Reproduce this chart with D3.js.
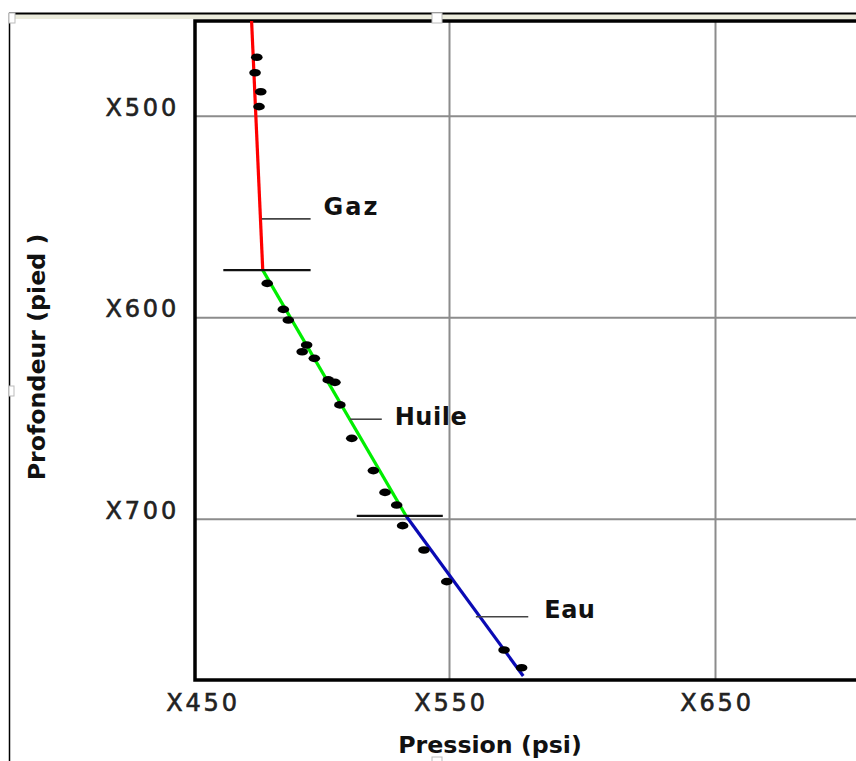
<!DOCTYPE html>
<html>
<head>
<meta charset="utf-8">
<script src="https://cdn.jsdelivr.net/npm/d3@7"></script>
<style>
  html, body { margin: 0; padding: 0; background: #fff; }
  svg { display: block; }
</style>
</head>
<body>
<svg id="chart" width="856" height="761"></svg>
<script>
// ---------------- DATA ----------------
const xTickValues = [450, 550, 650];
const yTickValues = [500, 600, 700];
const xTickLabels = ["X450", "X550", "X650"];
const yTickLabels = ["X500", "X600", "X700"];

// measured pressure points (psi) and depths (ft)
const gasPressure   = [472.5, 471.8, 474.1, 473.4];
const gasDepth      = [471.0, 478.7, 488.1, 495.5];
const oilPressure   = [476.7, 483.2, 485.2, 492.6, 490.8, 495.7, 501.3, 504.0, 506.0, 510.8, 519.5, 524.2, 528.9];
const oilDepth      = [583.2, 596.1, 601.4, 613.8, 617.1, 620.4, 631.1, 632.3, 643.5, 660.1, 676.1, 686.9, 693.2];
const waterPressure = [531.3, 539.9, 549.1, 570.7, 577.3];
const waterDepth    = [703.4, 715.5, 731.2, 765.1, 773.9];

// fitted gradient lines: [pressure, depth]
const gasGradient   = [[470.4, 453.0], [474.9, 576.6]];
const oilGradient   = [[474.9, 576.6], [532.7, 698.6]];
const waterGradient = [[532.7, 698.6], [577.9, 778.0]];

// fluid contacts: depth and pressure extent
const contactNames    = ["GOC", "OWC"];
const contactDepth    = [576.6, 698.6];
const contactPressure = [[459.0, 494.2], [512.8, 547.5]];

// zone labels with leader lines
const zoneNames         = ["Gaz", "Huile", "Eau"];
const zoneLeaderDepth   = [551.2, 650.6, 748.6];
const zoneLeaderPressure= [[474.5, 494.2], [510.1, 522.9], [560.1, 579.8]];

const xTitle = "Pression (psi)";
const yTitle = "Profondeur (pied )";

// ---------------- LAYOUT ----------------
const svg = d3.select("#chart");
const plot = { left: 195, top: 21, right: 880, bottom: 680 };

const x = d3.scaleLinear().domain([450, 550, 650]).range([201, 449, 715]);
const y = d3.scaleLinear().domain([453, 780]).range([plot.top, plot.bottom]);

// ---------------- PAGE FRAME (document image border) ----------------
const frame = svg.append("g");
frame.append("rect").attr("x", 10).attr("y", 14).attr("width", 846).attr("height", 5)
  .attr("fill", "#ebebdc");
frame.append("line").attr("x1", 9).attr("x2", 856).attr("y1", 13.5).attr("y2", 13.5)
  .attr("stroke", "#000").attr("stroke-width", 2);
frame.append("line").attr("x1", 9.5).attr("x2", 9.5).attr("y1", 13).attr("y2", 761)
  .attr("stroke", "#000").attr("stroke-width", 1.5);

// ---------------- GRID ----------------
const grid = svg.append("g");
grid.append("g")
  .attr("transform", `translate(0,${plot.bottom})`)
  .call(d3.axisBottom(x).tickValues([550, 650]).tickSize(-(plot.bottom - plot.top)).tickFormat(""))
  .call(g => g.select(".domain").remove())
  .call(g => g.selectAll("line").attr("stroke", "#8c8c8c").attr("stroke-width", 2));
grid.append("g")
  .attr("transform", `translate(${plot.left},0)`)
  .call(d3.axisLeft(y).tickValues(yTickValues).tickSize(-(plot.right - plot.left)).tickFormat(""))
  .call(g => g.select(".domain").remove())
  .call(g => g.selectAll("line").attr("stroke", "#8c8c8c").attr("stroke-width", 2));

// ---------------- PLOT BORDER ----------------
svg.append("path")
  .attr("d", `M${plot.right},${plot.top}H${plot.left}V${plot.bottom}H${plot.right}`)
  .attr("fill", "none").attr("stroke", "#000").attr("stroke-width", 3.5);

// ---------------- AXES LABELS ----------------
const tickFont = "'DejaVu Sans', sans-serif";
const xAxis = svg.append("g")
  .attr("transform", `translate(0,${plot.bottom})`)
  .call(d3.axisBottom(x).tickValues(xTickValues).tickSize(0).tickPadding(14)
        .tickFormat((d, i) => xTickLabels[i]));
xAxis.select(".domain").remove();
xAxis.selectAll("text")
  .attr("font-family", tickFont).attr("font-size", 24).attr("fill", "#222")
  .attr("stroke", "#222").attr("stroke-width", 0.6)
  .attr("letter-spacing", 2.8).attr("dx", 1.5);

const yAxis = svg.append("g")
  .attr("transform", `translate(${plot.left},0)`)
  .call(d3.axisLeft(y).tickValues(yTickValues).tickSize(0).tickPadding(16)
        .tickFormat((d, i) => yTickLabels[i]));
yAxis.select(".domain").remove();
yAxis.selectAll("text")
  .attr("font-family", tickFont).attr("font-size", 24).attr("fill", "#222")
  .attr("stroke", "#222").attr("stroke-width", 0.6)
  .attr("letter-spacing", 2.8).attr("dy", "0.32em")
  .attr("transform", "translate(0,-8)");

svg.append("text")
  .attr("x", 490).attr("y", 753)
  .attr("text-anchor", "middle")
  .attr("font-family", tickFont).attr("font-weight", "bold").attr("font-size", 23.7)
  .attr("fill", "#111")
  .text(xTitle);

svg.append("text")
  .attr("transform", "translate(45,357) rotate(-90)")
  .attr("text-anchor", "middle")
  .attr("font-family", tickFont).attr("font-weight", "bold").attr("font-size", 23.7)
  .attr("fill", "#111")
  .text(yTitle);

// ---------------- GRADIENT LINES ----------------
const line = d3.line().x(d => x(d[0])).y(d => y(d[1]));
const gradients = [
  { pts: gasGradient, color: "#ff0000" },
  { pts: oilGradient, color: "#00ee00" },
  { pts: waterGradient, color: "#0a0ab4" }
];
svg.append("g").selectAll("path").data(gradients).join("path")
  .attr("d", d => line(d.pts))
  .attr("fill", "none").attr("stroke", d => d.color).attr("stroke-width", 3.2);

// ---------------- CONTACTS ----------------
svg.append("g").selectAll("line").data(contactNames).join("line")
  .attr("x1", (d, i) => x(contactPressure[i][0]))
  .attr("x2", (d, i) => x(contactPressure[i][1]))
  .attr("y1", (d, i) => y(contactDepth[i]))
  .attr("y2", (d, i) => y(contactDepth[i]))
  .attr("stroke", "#111").attr("stroke-width", 2.2);

// ---------------- POINTS ----------------
const points = []
  .concat(gasPressure.map((p, i) => [p, gasDepth[i]]))
  .concat(oilPressure.map((p, i) => [p, oilDepth[i]]))
  .concat(waterPressure.map((p, i) => [p, waterDepth[i]]));
svg.append("g").selectAll("ellipse").data(points).join("ellipse")
  .attr("cx", d => x(d[0])).attr("cy", d => y(d[1]))
  .attr("rx", 5.8).attr("ry", 3.8).attr("fill", "#000");

// ---------------- ZONE LABELS ----------------
const labelShift = { "Gaz": -12, "Huile": -3, "Eau": -7 };
const labelDx = { "Gaz": 13, "Huile": 13, "Eau": 16 };
const zones = svg.append("g");
zoneNames.forEach((name, i) => {
  const yy = y(zoneLeaderDepth[i]);
  const x1 = x(zoneLeaderPressure[i][0]), x2 = x(zoneLeaderPressure[i][1]);
  zones.append("line").attr("x1", x1).attr("x2", x2).attr("y1", yy).attr("y2", yy)
    .attr("stroke", "#444").attr("stroke-width", 1.6);
  zones.append("text")
    .attr("x", x2 + labelDx[name]).attr("y", yy + labelShift[name])
    .attr("dy", "0.35em")
    .attr("font-family", tickFont).attr("font-weight", "bold").attr("font-size", 24)
    .attr("letter-spacing", name === "Gaz" ? 2 : 0.5)
    .attr("fill", "#111")
    .text(name);
});

// ---------------- SELECTION HANDLES ----------------
const handles = [[9, 13, 6, 10], [432, 13, 10, 10], [9, 386, 5, 10], [432, 757, 10, 6]];
svg.append("g").selectAll("rect").data(handles).join("rect")
  .attr("x", d => d[0]).attr("y", d => d[1]).attr("width", d => d[2]).attr("height", d => d[3])
  .attr("fill", "#fff").attr("stroke", "#bbb").attr("stroke-width", 1);
</script>
</body>
</html>
